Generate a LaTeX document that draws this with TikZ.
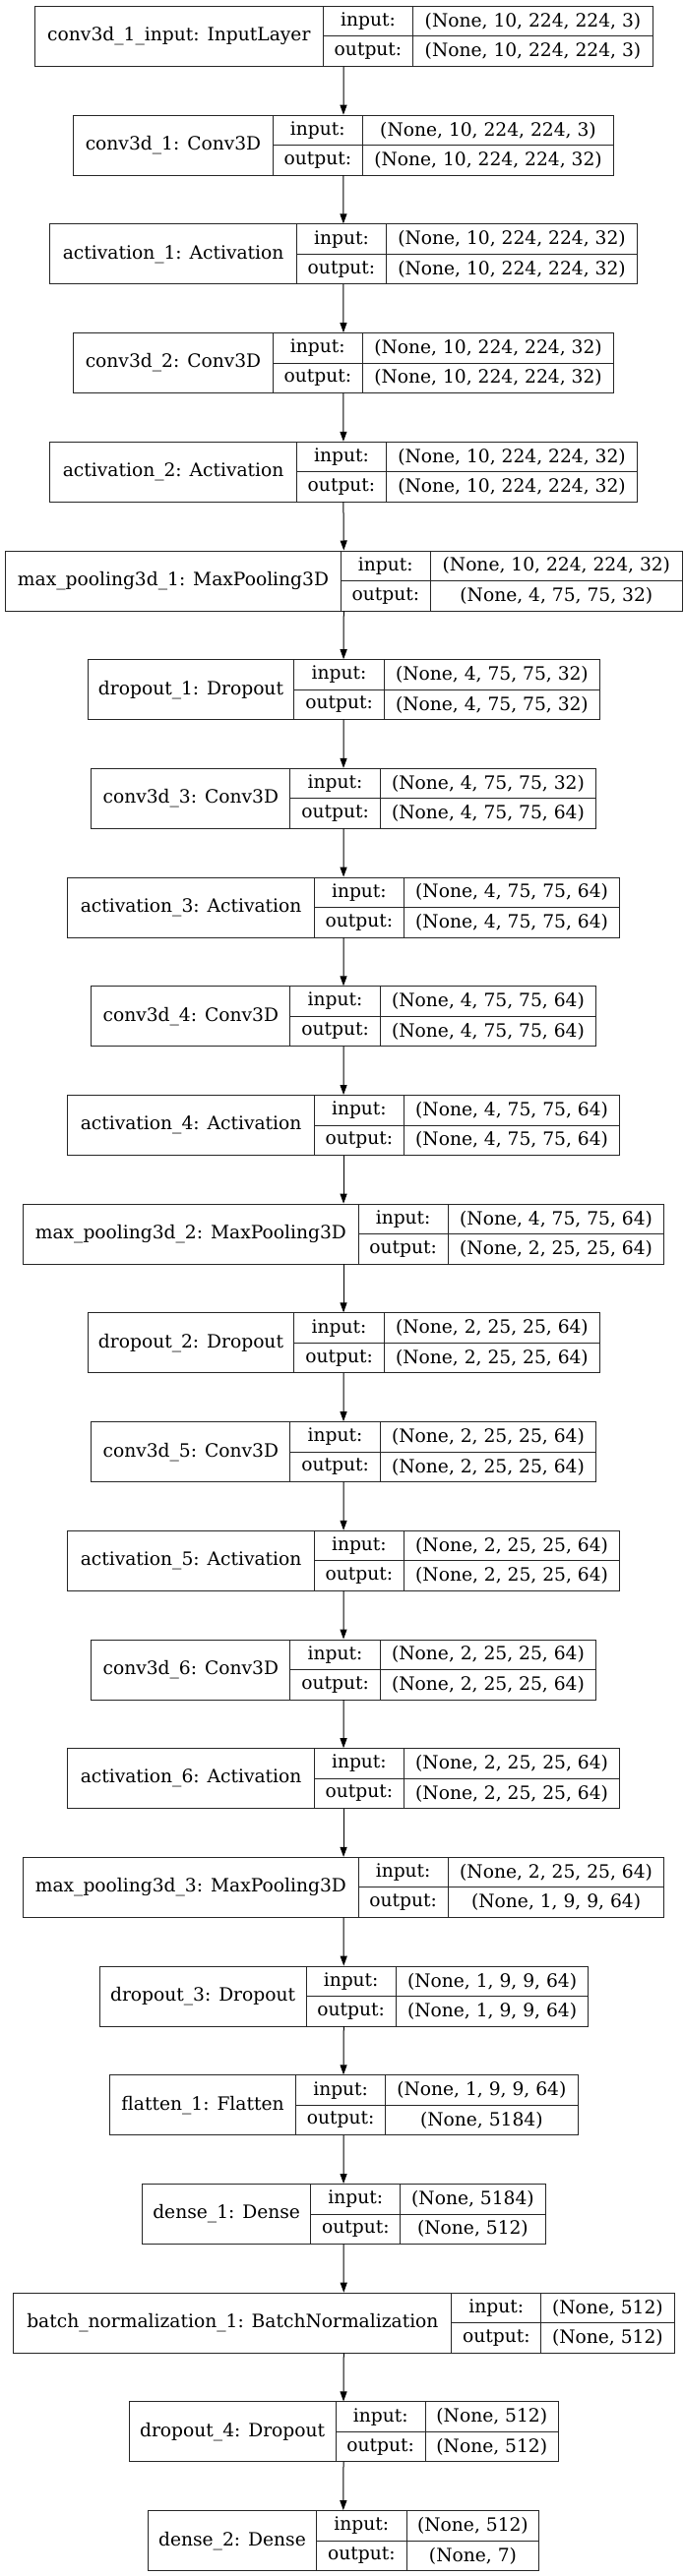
\documentclass[tikz,border=0pt]{standalone}
\usepackage{fontspec}
\setmainfont{DejaVu Serif}
\usepackage{tikz}
\usetikzlibrary{arrows.meta}

\tikzset{
    cell/.style={draw=black!85, line width=0.75pt, rectangle, anchor=north west, inner sep=0pt,
        minimum height=22.875pt, font=\fontsize{14}{16}\selectfont},
    frame/.style={rectangle, anchor=north west, inner sep=0pt, minimum height=45.75pt},
    flow/.style={-{Triangle[length=7.5pt, width=5.25pt]}, line width=0.75pt, black}
}

% one layer: name, top, x of the four borders, label, input shape, output shape
\newcommand{\kerasbox}[9]{%
    \node[frame, minimum width={(#6-#3)*0.75pt}] (#1) at (#3,#2) {};
    \node[cell, minimum width={(#4-#3)*0.75pt}, minimum height=45.75pt] (#1-name) at (#3,#2) {#7};
    \node[cell, minimum width={(#5-#4)*0.75pt}] (#1-inl) at (#4,#2) {input:};
    \node[cell, minimum width={(#5-#4)*0.75pt}] (#1-outl) at (#4,{#2+30.5}) {output:};
    \node[cell, minimum width={(#6-#5)*0.75pt}] (#1-in) at (#5,#2) {#8};
    \node[cell, minimum width={(#6-#5)*0.75pt}] (#1-out) at (#5,{#2+30.5}) {#9};
}

\begin{document}
\begin{tikzpicture}[x=0.75pt, y=-0.75pt]
    \path[fill=white, use as bounding box] (0,0) rectangle (695,2619);
    % Layers
    \kerasbox{input}{6}{34.7}{328}{419}{663}{conv3d\_1\_input: InputLayer}{(None, 10, 224, 224, 3)}{(None, 10, 224, 224, 3)}
    \kerasbox{convA}{116.7}{74.4}{276.6}{368}{623}{conv3d\_1: Conv3D}{(None, 10, 224, 224, 3)}{(None, 10, 224, 224, 32)}
    \kerasbox{actA}{227.4}{50.3}{301}{392}{647}{activation\_1: Activation}{(None, 10, 224, 224, 32)}{(None, 10, 224, 224, 32)}
    \kerasbox{convB}{338.1}{74.4}{276.6}{368}{623}{conv3d\_2: Conv3D}{(None, 10, 224, 224, 32)}{(None, 10, 224, 224, 32)}
    \kerasbox{actB}{448.8}{50.3}{301}{392}{647}{activation\_2: Activation}{(None, 10, 224, 224, 32)}{(None, 10, 224, 224, 32)}
    \kerasbox{poolA}{559.5}{5.3}{345.7}{437}{692.7}{max\_pooling3d\_1: MaxPooling3D}{(None, 10, 224, 224, 32)}{(None, 4, 75, 75, 32)}
    \kerasbox{dropA}{670.2}{88.6}{298.4}{389.8}{609}{dropout\_1: Dropout}{(None, 4, 75, 75, 32)}{(None, 4, 75, 75, 32)}
    \kerasbox{convC}{780.9}{92.2}{294.4}{385.7}{605.3}{conv3d\_3: Conv3D}{(None, 4, 75, 75, 32)}{(None, 4, 75, 75, 64)}
    \kerasbox{actC}{891.6}{68.2}{319}{409.8}{629.4}{activation\_3: Activation}{(None, 4, 75, 75, 64)}{(None, 4, 75, 75, 64)}
    \kerasbox{convD}{1002.3}{92.2}{294.4}{385.7}{605.3}{conv3d\_4: Conv3D}{(None, 4, 75, 75, 64)}{(None, 4, 75, 75, 64)}
    \kerasbox{actD}{1113}{68.2}{319}{409.8}{629.4}{activation\_4: Activation}{(None, 4, 75, 75, 64)}{(None, 4, 75, 75, 64)}
    \kerasbox{poolB}{1223.7}{23.2}{363.5}{454.8}{674.4}{max\_pooling3d\_2: MaxPooling3D}{(None, 4, 75, 75, 64)}{(None, 2, 25, 25, 64)}
    \kerasbox{dropB}{1334.4}{88.6}{298.4}{389.8}{609}{dropout\_2: Dropout}{(None, 2, 25, 25, 64)}{(None, 2, 25, 25, 64)}
    \kerasbox{convE}{1445.1}{92.2}{294.4}{385.7}{605.3}{conv3d\_5: Conv3D}{(None, 2, 25, 25, 64)}{(None, 2, 25, 25, 64)}
    \kerasbox{actE}{1555.8}{68.2}{319}{409.8}{629.4}{activation\_5: Activation}{(None, 2, 25, 25, 64)}{(None, 2, 25, 25, 64)}
    \kerasbox{convF}{1666.5}{92.2}{294.4}{385.7}{605.3}{conv3d\_6: Conv3D}{(None, 2, 25, 25, 64)}{(None, 2, 25, 25, 64)}
    \kerasbox{actF}{1777.2}{68.2}{319}{409.8}{629.4}{activation\_6: Activation}{(None, 2, 25, 25, 64)}{(None, 2, 25, 25, 64)}
    \kerasbox{poolC}{1887.9}{23.2}{363.5}{454.8}{674.4}{max\_pooling3d\_3: MaxPooling3D}{(None, 2, 25, 25, 64)}{(None, 1, 9, 9, 64)}
    \kerasbox{dropC}{1998.6}{100.7}{310.5}{401.8}{597.3}{dropout\_3: Dropout}{(None, 1, 9, 9, 64)}{(None, 1, 9, 9, 64)}
    \kerasbox{flat}{2109.3}{110.9}{300.2}{391.1}{586.6}{flatten\_1: Flatten}{(None, 1, 9, 9, 64)}{(None, 5184)}
    \kerasbox{denseA}{2220}{143.9}{315.4}{406.2}{553.7}{dense\_1: Dense}{(None, 5184)}{(None, 512)}
    \kerasbox{norm}{2330.7}{13.4}{458.4}{549.2}{684.6}{batch\_normalization\_1: BatchNormalization}{(None, 512)}{(None, 512)}
    \kerasbox{dropD}{2441.4}{130.5}{340.8}{431.6}{567}{dropout\_4: Dropout}{(None, 512)}{(None, 512)}
    \kerasbox{denseB}{2552.1}{149.7}{321.2}{412.5}{547.4}{dense\_2: Dense}{(None, 512)}{(None, 7)}
    % Arrows
    \draw[flow] (input.south) -- (convA.north);
    \draw[flow] (convA.south) -- (actA.north);
    \draw[flow] (actA.south) -- (convB.north);
    \draw[flow] (convB.south) -- (actB.north);
    \draw[flow] (actB.south) -- (poolA.north);
    \draw[flow] (poolA.south) -- (dropA.north);
    \draw[flow] (dropA.south) -- (convC.north);
    \draw[flow] (convC.south) -- (actC.north);
    \draw[flow] (actC.south) -- (convD.north);
    \draw[flow] (convD.south) -- (actD.north);
    \draw[flow] (actD.south) -- (poolB.north);
    \draw[flow] (poolB.south) -- (dropB.north);
    \draw[flow] (dropB.south) -- (convE.north);
    \draw[flow] (convE.south) -- (actE.north);
    \draw[flow] (actE.south) -- (convF.north);
    \draw[flow] (convF.south) -- (actF.north);
    \draw[flow] (actF.south) -- (poolC.north);
    \draw[flow] (poolC.south) -- (dropC.north);
    \draw[flow] (dropC.south) -- (flat.north);
    \draw[flow] (flat.south) -- (denseA.north);
    \draw[flow] (denseA.south) -- (norm.north);
    \draw[flow] (norm.south) -- (dropD.north);
    \draw[flow] (dropD.south) -- (denseB.north);
\end{tikzpicture}
\end{document}
